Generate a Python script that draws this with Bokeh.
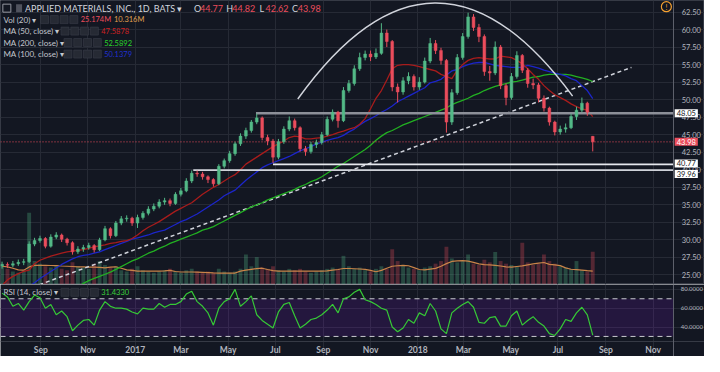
import numpy as np
import pandas as pd
from bokeh.plotting import figure
from bokeh.layouts import column
from bokeh.models import Range1d, FixedTicker, NumeralTickFormatter, Label, BoxAnnotation, ColumnDataSource
from bokeh.embed import file_html
from bokeh.resources import INLINE
from bokeh.core.properties import value

# ------------------------------------------------------------------ data
week_start = "2016-07-13"          # weekly bars (Wednesdays)
first_open = 26.3
last_open = 44.77

closes = [
    26.5, 26.4, 26.6, 26.8, 26.9, 29.4, 29.9, 30.2, 29.1, 30.4,
    30.7, 30.1, 29.6, 28.3, 28.7, 28.9, 29.2, 28.6, 30.0, 31.6,
    30.6, 32.4, 33.0, 33.1, 32.4, 33.2, 33.8, 34.4, 34.8, 35.4,
    35.6, 35.2, 36.5, 37.0, 38.4, 39.5, 39.4, 39.0, 38.6, 38.0,
    40.5, 41.3, 42.3, 43.7, 44.8, 45.6, 46.8, 47.4, 44.6, 44.1,
    41.8, 44.0, 45.8, 47.0, 46.0, 43.0, 42.6, 43.6, 43.9, 45.0,
    47.2, 48.2, 47.0, 51.3, 52.3, 54.4, 56.0, 56.5, 56.1, 56.6,
    59.5, 58.3, 51.8, 51.1, 52.7, 53.3, 51.8, 52.5, 55.5, 58.0,
    57.0, 55.6, 46.8, 51.0, 56.0, 59.0, 61.8, 60.3, 59.0, 54.0,
    53.8, 57.5, 52.0, 50.3, 53.3, 56.3, 54.2, 52.3, 52.1, 50.2,
    48.8, 46.8, 45.4, 45.8, 46.0, 47.6, 48.5, 49.5, 48.2, 43.98]
highs = [
    26.9, 26.8, 27.0, 27.2, 27.3, 29.8, 30.3, 30.6, 30.4, 30.8,
    31.1, 30.9, 30.3, 29.8, 29.1, 29.3, 29.6, 29.4, 30.3, 32.0,
    31.8, 32.7, 33.4, 33.5, 33.3, 33.6, 34.1, 34.8, 35.2, 35.8,
    36.0, 35.9, 36.8, 37.4, 38.8, 39.9, 39.9, 39.7, 39.2, 38.8,
    40.8, 41.6, 42.7, 44.0, 45.2, 46.0, 47.1, 48.0, 47.6, 45.0,
    44.4, 44.4, 46.2, 47.6, 47.3, 46.2, 43.4, 44.0, 44.3, 45.4,
    47.6, 48.6, 48.4, 51.8, 52.8, 54.9, 56.7, 57.0, 57.0, 57.3,
    60.9, 60.0, 58.5, 52.3, 53.2, 53.9, 53.6, 53.2, 56.0, 58.8,
    58.5, 57.4, 55.8, 51.5, 56.5, 59.5, 62.4, 62.2, 60.8, 59.3,
    54.8, 58.3, 57.8, 52.3, 53.8, 56.9, 56.5, 54.5, 53.0, 52.4,
    50.6, 49.0, 47.0, 46.3, 46.6, 48.0, 49.0, 50.3, 49.7, 44.82]
lows = [
    25.9, 26.0, 26.1, 26.3, 26.4, 26.7, 29.1, 29.6, 28.8, 28.9,
    30.1, 29.7, 29.2, 27.9, 28.0, 28.3, 28.6, 28.2, 28.4, 29.8,
    30.2, 30.4, 32.1, 32.6, 32.0, 31.7, 32.9, 33.5, 34.1, 34.5,
    35.0, 34.8, 35.0, 36.2, 36.8, 38.1, 39.0, 38.6, 38.1, 37.6,
    37.8, 40.2, 41.0, 42.0, 43.4, 44.4, 45.3, 46.5, 44.2, 43.5,
    41.0, 41.5, 43.7, 45.5, 45.6, 42.6, 42.0, 42.3, 43.1, 43.6,
    44.8, 46.9, 46.0, 46.8, 51.0, 52.0, 54.1, 55.6, 55.5, 55.8,
    56.4, 57.5, 51.2, 49.6, 50.7, 52.2, 51.3, 51.4, 52.3, 55.2,
    56.5, 55.0, 45.3, 46.4, 50.7, 55.7, 58.7, 59.8, 58.2, 53.4,
    52.7, 53.5, 51.5, 49.2, 50.0, 53.0, 53.8, 51.7, 51.5, 49.6,
    48.3, 46.3, 44.9, 45.0, 45.3, 45.8, 47.1, 48.2, 47.7, 42.62]

volume_m = [
    16, 12, 10, 9, 11, 55, 18, 16, 14, 13,
    15, 12, 11, 17, 14, 13, 12, 16, 18, 15,
    13, 14, 11, 10, 12, 14, 11, 10, 9, 10,
    11, 12, 10, 9, 11, 12, 10, 9, 10, 9,
    12, 10, 9, 10, 12, 23, 14, 21, 13, 12,
    14, 11, 10, 12, 11, 12, 10, 9, 10, 11,
    12, 13, 12, 22, 14, 12, 13, 11, 10, 12,
    14, 12, 27, 18, 15, 13, 12, 11, 13, 14,
    16, 18, 29, 20, 17, 18, 23, 16, 15, 19,
    17, 25, 18, 16, 15, 14, 32, 17, 15, 16,
    23, 18, 16, 14, 13, 12, 18, 11, 10, 25.174]
volume_ma_m = [
    14.0, 13.5, 12.5, 11.2, 11.0, 13.5, 14.7, 14.7, 14.7, 14.6,
    14.5, 14.2, 14.0, 13.8, 13.6, 13.5, 13.4, 13.3, 13.1, 12.7,
    13.3, 13.6, 12.5, 11.2, 10.8, 10.3, 10.3, 10.3, 10.3, 10.3,
    10.4, 10.9, 10.0, 9.6, 9.6, 9.6, 9.5, 9.3, 9.1, 8.9,
    8.8, 8.8, 8.8, 8.8, 10.3, 11.0, 11.6, 12.2, 12.5, 11.5,
    10.6, 10.3, 10.3, 10.3, 10.3, 10.3, 10.3, 10.3, 10.3, 10.3,
    10.5, 11.0, 11.5, 12.3, 12.3, 12.1, 11.9, 11.6, 10.8, 9.8,
    10.8, 12.5, 14.0, 14.4, 14.7, 14.4, 13.0, 11.5, 11.2, 11.8,
    12.4, 14.0, 16.0, 17.7, 18.1, 18.4, 17.9, 17.0, 15.8, 15.2,
    15.0, 14.7, 14.2, 13.6, 13.3, 13.8, 14.3, 15.1, 15.8, 16.4,
    16.9, 15.4, 15.0, 14.5, 12.8, 11.7, 11.4, 11.1, 10.6, 10.316]

ma50 = [
    23.5, 24.3, 24.8, 25.2, 25.5, 25.7, 26.6, 27.1, 27.4, 27.7,
    27.9, 28.1, 28.3, 28.4, 28.5, 28.6, 28.8, 29.0, 29.15, 29.3,
    29.5, 29.6, 29.8, 29.9, 30.2, 30.7, 31.3, 31.8, 32.2, 32.6,
    33.1, 33.6, 34.1, 34.5, 34.9, 35.3, 35.9, 36.5, 37.0, 37.5,
    37.9, 38.4, 38.9, 39.3, 40.0, 40.8, 41.3, 41.8, 42.3, 42.8,
    43.3, 43.7, 44.1, 44.6, 44.8, 44.7, 44.4, 44.4, 44.5, 44.6,
    44.8, 45.0, 45.3, 45.5, 45.8, 46.0, 46.5, 47.3, 48.7, 50.2,
    51.3, 52.8, 54.4, 54.9, 55.0, 55.0, 54.9, 54.7, 54.5, 54.3,
    54.1, 53.6, 53.3, 53.0, 54.2, 55.0, 55.6, 55.9, 56.0, 55.9,
    55.8, 55.8, 56.2, 56.1, 56.0, 55.6, 55.1, 54.4, 53.6, 52.9,
    52.0, 51.3, 50.7, 50.3, 49.9, 49.4, 49.0, 48.7, 48.5, 47.5878]
ma100 = [None] * 5 + [
    23.3, 23.9, 24.5, 25.0, 25.5,
    26.0, 26.5, 26.9, 27.3, 27.6, 27.8, 27.9, 28.1, 28.3, 28.6,
    28.9, 29.2, 29.5, 29.8, 30.1, 30.3, 30.5, 30.7, 31.0, 31.2,
    31.4, 31.8, 32.2, 32.6, 32.9, 33.3, 33.7, 34.2, 34.7, 35.2,
    35.7, 36.3, 36.7, 37.1, 37.8, 38.5, 39.1, 39.7, 40.3, 40.7,
    41.0, 41.3, 41.6, 41.9, 42.3, 42.7, 43.0, 43.3, 43.7, 43.9,
    44.2, 44.4, 44.6, 44.9, 45.4, 45.8, 46.4, 46.9, 47.3, 47.7,
    48.2, 48.6, 49.1, 49.7, 50.1, 50.5, 50.9, 51.3, 51.7, 52.4,
    52.6, 52.9, 53.5, 54.1, 54.3, 54.7, 55.0, 55.2, 55.3, 55.3,
    55.1, 54.9, 54.8, 54.7, 54.6, 54.6, 54.6, 54.9, 54.7, 54.5,
    54.2, 54.0, 53.8, 53.6, 53.4, 53.0, 52.7, 52.0, 51.3, 50.1379]
ma200 = [None] * 14 + [
    23.2, 23.8, 24.2, 24.5, 24.8, 25.1,
    25.4, 25.8, 26.2, 26.6, 27.0, 27.3, 27.7, 28.1, 28.4, 28.8,
    29.1, 29.5, 29.8, 30.1, 30.4, 30.7, 31.0, 31.4, 31.6, 31.9,
    32.3, 32.7, 33.1, 33.5, 33.9, 34.3, 34.7, 35.0, 35.3, 35.7,
    36.0, 36.3, 36.6, 36.9, 37.2, 37.6, 37.9, 38.3, 38.6, 39.0,
    39.5, 40.0, 40.5, 40.9, 41.4, 41.9, 42.4, 42.9, 43.5, 44.2,
    44.8, 45.3, 45.6, 46.0, 46.4, 46.7, 47.0, 47.3, 47.6, 47.9,
    48.2, 48.5, 48.8, 49.3, 49.6, 49.9, 50.2, 50.6, 50.9, 51.3,
    51.6, 51.9, 52.1, 52.3, 52.5, 52.6, 52.8, 53.0, 53.2, 53.3,
    53.5, 53.6, 53.6, 53.6, 53.6, 53.5, 53.3, 53.1, 52.9, 52.5892]

rsi = [
    76, 72, 62, 65, 58, 67, 74, 71, 60, 64,
    53, 57, 51, 36, 42, 47, 48, 42, 58, 67,
    62, 60, 60, 59, 56, 54, 60, 59, 59, 65,
    61, 64, 64, 67, 75, 78, 67, 62, 55, 42,
    60, 67, 70, 80, 62, 67, 73, 53, 47, 43,
    39, 56, 64, 66, 52, 39, 43, 48, 49.5, 53,
    58, 64, 55, 70, 72, 77, 80, 69, 67, 64,
    60, 58, 40, 35, 39, 48, 44, 55, 52, 65,
    57, 38, 33, 55, 60, 64, 67, 61, 45, 44,
    50, 51, 41, 41, 52, 57, 42, 47, 51, 45,
    41, 33, 31, 38, 48, 46, 55, 61, 53, 31.433]

price_ticks = [25.0, 27.5, 30.0, 32.5, 35.0, 37.5, 40.0, 42.5, 45.0, 47.5,
               50.0, 52.5, 55.0, 57.5, 60.0, 62.5]
rsi_ticks = [40, 60, 80]
rsi_levels = [30, 70]
time_tick_dates = ["2016-09-01", "2016-11-01", "2017-01-01", "2017-03-01", "2017-05-01",
                   "2017-07-01", "2017-09-01", "2017-11-01", "2018-01-01", "2018-03-01",
                   "2018-05-01", "2018-07-01", "2018-09-01", "2018-11-01"]
time_tick_labels = ["Sep", "Nov", "2017", "Mar", "May", "Jul", "Sep", "Nov", "2018",
                    "Mar", "May", "Jul", "Sep", "Nov"]

# drawings
trend_dates = ["2016-08-30", "2018-10-04"]
trend_prices = [23.6, 54.6]
arc_dates = ["2017-07-30", "2018-01-23", "2018-07-20"]   # start, top, end
arc_prices = [50.1, 63.8, 50.5]
hline_levels = [48.05, 40.77, 39.96]
hline_starts = ["2017-06-06", "2017-06-28", "2017-03-17"]
hline_colors = ["#8d9099", "#e6e8ee", "#cfd2d9"]
hline_widths = [2.5, 1.8, 1.8]

view_start, view_end = "2016-07-11", "2018-12-02"   # visible span of the chart panes

# ------------------------------------------------------------------ styling helpers
BG = "#131722"
GRID = "#262a35"
TXT = "#b2b5be"
UP, DN = "#53b987", "#eb4d5c"
FONT = "Lato"

def ms(d):
    return pd.Timestamp(d).value / 1e6

X0, X1 = ms(view_start), ms(view_end)
FRAME_W = 692.0
XF = X0 + 720.0 * (X1 - X0) / FRAME_W      # includes the price-scale strip

def px_x(px):
    return X0 + px * (X1 - X0) / FRAME_W

XA = px_x(688.5)                            # where the price scale starts

def py_main(py):
    return 64.14 - py * 40.5 / 297.0

def py_rsi(py):
    return 85.17 - (py - 298) * 1.0336

RSI_BOTTOM = py_rsi(357)                    # bottom of the RSI pane / top of time scale

dates = pd.date_range(week_start, periods=len(closes), freq="7D")
opens = [first_open] + closes[:-2] + [last_open]
colors = [UP if c >= o else DN for o, c in zip(opens, closes)]
DAY = 86400000

src = ColumnDataSource(dict(
    date=dates, open=opens, close=closes, high=highs, low=lows,
    top=[max(o, c) for o, c in zip(opens, closes)],
    bot=[min(o, c) for o, c in zip(opens, closes)],
    color=colors, vol=volume_m, volma=volume_ma_m,
    ma50=np.array(ma50, dtype=float), ma100=np.array(ma100, dtype=float),
    ma200=np.array(ma200, dtype=float), rsi=rsi))

tick_ms = [ms(d) for d in time_tick_dates]
xr = Range1d(start=X0, end=XF)


def style_price_axis(ax, ticks, fmt, size, standoff):
    ax.ticker = FixedTicker(ticks=ticks)
    ax.formatter = NumeralTickFormatter(format=fmt)
    ax.fixed_location = XA
    ax.major_label_text_color = TXT
    ax.major_label_text_font = FONT
    ax.major_label_text_font_size = size
    ax.major_label_standoff = standoff
    ax.major_tick_line_color = None
    ax.minor_tick_line_color = None
    ax.axis_line_color = "#5d606b"


# ------------------------------------------------------------------ main pane
p = figure(width=704, height=284, x_range=xr, y_range=Range1d(23.64, 64.14),
           x_axis_type="datetime", x_axis_location=None, y_axis_location="right",
           output_backend="svg", toolbar_location=None,
           min_border_left=0, min_border_right=0, min_border_top=0, min_border_bottom=0,
           background_fill_color=BG, border_fill_color=BG)
p.outline_line_color = "#363a45"
p.xgrid.ticker = FixedTicker(ticks=tick_ms)
p.xgrid.grid_line_color = GRID
p.ygrid.grid_line_color = GRID
p.ygrid.bounds = (X0, XA)
style_price_axis(p.yaxis[0], price_ticks, "0.00", "7.5px", 2)

# volume
p.extra_y_ranges = {"vol": Range1d(0, 218)}
p.vbar(x="date", top="vol", bottom=0, width=5 * DAY, source=src, y_range_name="vol",
       fill_color="color", fill_alpha=0.3, line_color=None)
p.line("date", "volma", source=src, y_range_name="vol", line_color="#c98449", line_width=1.2)

# trend line (dashed)
p.line([ms(d) for d in trend_dates], trend_prices, line_color="#cfd2da",
       line_width=1.5, line_dash="4 3")

# moving averages
p.line("date", "ma200", source=src, line_color="#22b022", line_width=1.3)
p.line("date", "ma100", source=src, line_color="#1c25c9", line_width=1.3)
p.line("date", "ma50", source=src, line_color="#a81c1c", line_width=1.3)

# horizontal rays
for lvl, st, c, w in zip(hline_levels, hline_starts, hline_colors, hline_widths):
    p.segment(x0=[ms(st)], y0=[lvl], x1=[XA], y1=[lvl], line_color=c, line_width=w)

# last price dotted line
p.segment(x0=[X0], y0=[closes[-1]], x1=[XA], y1=[closes[-1]], line_color=DN,
          line_dash="1 2", line_width=1)

# candles
p.segment(x0="date", y0="low", x1="date", y1="high", source=src, line_color="color", line_width=1)
p.vbar(x="date", top="top", bottom="bot", width=3.6 * DAY, source=src,
       fill_color="color", line_color="color", line_width=0.5)

# arc drawing (quadratic through start, top, end)
a0, am, a2 = [ms(d) for d in arc_dates]
cx = 2 * am - 0.5 * (a0 + a2)
cy = 2 * arc_prices[1] - 0.5 * (arc_prices[0] + arc_prices[2])
p.quadratic(x0=[a0], y0=[arc_prices[0]], x1=[a2], y1=[arc_prices[2]], cx=[cx], cy=[cy],
            line_color="#d1d4dc", line_width=1.5)

# price-axis value boxes
def axis_box(fig, level, text, bg, fg, dy=0):
    fig.add_layout(Label(x=px_x(689.5), y=level, text=text, text_font=FONT,
                         text_font_size="7.5px", text_color=fg, text_baseline="middle",
                         text_align="left", background_fill_color=bg, padding=(2, 1),
                         y_offset=dy))

box_offsets = [0, 1, -4]
for lvl, dy in zip(hline_levels, box_offsets):
    axis_box(p, lvl, f"{lvl:.2f}", "#ffffff", "#131722", dy)
axis_box(p, closes[-1], f"{closes[-1]:.2f}", DN, "#ffffff")

# legend texts
def txt(fig, px, py, text, color, size="8px", yf=py_main):
    fig.add_layout(Label(x=px_x(px), y=yf(py), text=text, text_color=color, text_font=FONT,
                         text_font_size=size, text_baseline="middle", text_align="left"))

def icons(fig, px0, py, yf=py_main):
    xs = [px_x(px0 + 10 * k) for k in range(4)]
    fig.rect(x=xs, y=[yf(py)] * 4, width=8, height=8, width_units="screen",
             height_units="screen", fill_color="#262a34", line_color="#3a3e49", line_width=0.6)

p.rect(x=[px_x(6.5)], y=[py_main(8)], width=8, height=8, width_units="screen",
       height_units="screen", fill_color=None, line_color="#9598a1", line_width=1)
p.rect(x=[px_x(19)], y=[py_main(8)], width=6, height=8, width_units="screen",
       height_units="screen", fill_color="#50535e", line_color=None)
txt(p, 25, 8, "APPLIED MATERIALS, INC., 1D, BATS ▾", "#d1d4dc", "9px")
ohlc = [("O", last_open, 198), ("H", highs[-1], 231), ("L", lows[-1], 265), ("C", closes[-1], 298)]
for letter, v, px in ohlc:
    txt(p, px, 8, letter, "#d1d4dc", "9px")
    txt(p, px + 6, 8, f"{v:.2f}", DN, "9px")

txt(p, 3, 20, "Vol (20) ▾", "#c3c6ce")
icons(p, 45, 20)
txt(p, 82, 20, f"{volume_m[-1]:.3f}M", DN, "7.5px")
txt(p, 116, 20, f"{volume_ma_m[-1]:.3f}M", "#e0a050", "7.5px")

txt(p, 3, 32, "MA (50, close) ▾", "#c3c6ce")
icons(p, 66, 32)
txt(p, 103, 32, f"{ma50[-1]:.4f}", "#cc2222", "7.5px")

txt(p, 3, 44, "MA (200, close) ▾", "#c3c6ce")
icons(p, 69, 44)
txt(p, 106, 44, f"{ma200[-1]:.4f}", "#2ad62a", "7.5px")

txt(p, 3, 56, "MA (100, close) ▾", "#c3c6ce")
icons(p, 69, 56)
txt(p, 106, 56, f"{ma100[-1]:.4f}", "#2030d0", "7.5px")

p.scatter(x=[px_x(681)], y=[py_main(6.5)], size=10, marker="circle", fill_color=None,
          line_color="#f5a030", line_width=1.2)
p.text(x=[px_x(681)], y=[py_main(6.5)], text=["!"], text_color="#f5a030",
       text_font=value(FONT), text_font_size="7px", text_align="center", text_baseline="middle")

# ------------------------------------------------------------------ RSI pane + time scale
r = figure(width=704, height=72, x_range=xr, y_range=Range1d(py_rsi(372), py_rsi(298)),
           x_axis_type="datetime", y_axis_location="right",
           output_backend="svg", toolbar_location=None,
           min_border_left=0, min_border_right=0, min_border_top=0, min_border_bottom=0,
           background_fill_color=BG, border_fill_color=BG)
r.outline_line_color = None
r.xgrid.grid_line_color = GRID
r.xgrid.bounds = (RSI_BOTTOM, py_rsi(298))
r.ygrid.grid_line_color = GRID
r.ygrid.bounds = (X0, XA)
xa = r.xaxis[0]
xa.fixed_location = RSI_BOTTOM
xa.ticker = FixedTicker(ticks=tick_ms)
xa.major_label_overrides = {int(t): lab for t, lab in zip(tick_ms, time_tick_labels)}
xa.major_label_text_color = TXT
xa.major_label_text_font = FONT
xa.major_label_text_font_size = "8.5px"
xa.major_label_text_font_style = "bold"
xa.major_label_standoff = 3
xa.major_tick_out = 0
xa.major_tick_in = 0
xa.major_tick_line_color = None
xa.minor_tick_line_color = None
xa.axis_line_color = "#363a45"
style_price_axis(r.yaxis[0], rsi_ticks, "0.0000", "6px", 1)

r.add_layout(BoxAnnotation(left=X0, right=XA, bottom=rsi_levels[0], top=rsi_levels[1],
                           fill_color="#9915ff", fill_alpha=0.13, line_color=None,
                           level="underlay"))
for lv in rsi_levels:
    r.segment(x0=[X0], y0=[lv], x1=[XA], y1=[lv], line_color="#c8cad0",
              line_dash="5 4", line_width=1)
r.line("date", "rsi", source=src, line_color="#36c936", line_width=1.2)

txt(r, 3, 306, "RSI (14, close) ▾", "#c3c6ce", yf=py_rsi)
icons(r, 66, 306, yf=py_rsi)
txt(r, 103, 306, f"{rsi[-1]:.4f}", "#3ad13a", "7.5px", yf=py_rsi)

layout = column(p, r, spacing=0)
open("out.html", "w").write(file_html(layout, INLINE))
